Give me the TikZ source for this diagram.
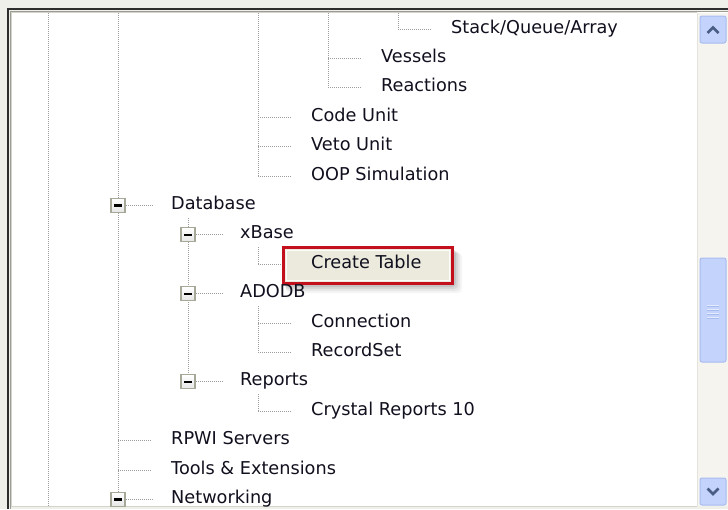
\documentclass[tikz,border=0pt]{standalone}
\usepackage{fontspec}
\setmainfont{DejaVu Sans}
\definecolor{bgout}{HTML}{F0F0EA}
\definecolor{frdark}{HTML}{2E2E2E}
\definecolor{frgray}{HTML}{9C9C94}
\definecolor{frlight}{HTML}{D4D4CC}
\definecolor{dotc}{HTML}{9C9C9C}
\definecolor{txt}{HTML}{10101E}
\definecolor{boxc}{HTML}{A8A898}
\definecolor{hired}{HTML}{C4101C}
\definecolor{hifill}{HTML}{ECEADD}
\definecolor{track}{HTML}{F5F4EF}
\definecolor{trackedge}{HTML}{E4E3DC}
\definecolor{sbfill}{HTML}{C4D3FB}
\definecolor{sbedge}{HTML}{A9BCF0}
\definecolor{sbgrip}{HTML}{E4EBFD}
\definecolor{sbarrow}{HTML}{4A5D84}
\tikzset{
  treeline/.style={draw=dotc, line width=1pt, dash pattern=on 1pt off 1pt},
  item/.style={anchor=base west, inner sep=0pt, text=txt, font=\fontsize{17.7}{20}\selectfont},
  expbox/.style={draw=boxc, line width=1.3pt, minimum width=14pt, minimum height=14pt, inner sep=0pt,
    top color=white, bottom color=black!10, rectangle},
  sbbtn/.style={draw=sbedge, line width=1pt, fill=sbfill, rounded corners=2pt}
}
\newcommand{\minusin}[1]{\draw[black, line width=2.2pt] ([xshift=-4pt]#1.center) -- ([xshift=4pt]#1.center);}
\begin{document}
\begin{tikzpicture}[x=1pt,y=-1pt]
\useasboundingbox (0,0) rectangle (728,509);
% background and frame
\fill[bgout] (0,0) rectangle (728,509);
\fill[white] (11,12) rectangle (728,506);
\draw[frdark, line width=2pt] (8,509) -- (8,9) -- (728,9);
\draw[frgray, line width=1.2pt] (10.2,509) -- (10.2,11.2) -- (728,11.2);
\draw[frlight, line width=0.8pt] (11.8,506) -- (11.8,12.6) -- (697,12.6);
\draw[frlight, line width=0.8pt] (11,506.5) -- (697,506.5);

% ---- vertical tree lines ----
\draw[treeline] (48,13) -- (48,506);
\draw[treeline] (118,13) -- (118,499.4);
\draw[treeline] (258,13) -- (258,176);
\draw[treeline] (328,13) -- (328,87.8);
\draw[treeline] (398,13) -- (398,29);
\draw[treeline] (188,218) -- (188,381.8);
\draw[treeline] (258,247) -- (258,264.2);
\draw[treeline] (258,306) -- (258,352.4);
\draw[treeline] (258,394) -- (258,411.2);

% ---- connector coordinates ----
\coordinate (j0) at (398,29);      \coordinate (e0) at (432,29);
\coordinate (j1) at (328,58.4);    \coordinate (e1) at (362,58.4);
\coordinate (j2) at (328,87.8);    \coordinate (e2) at (362,87.8);
\coordinate (j3) at (258,117.2);   \coordinate (e3) at (292,117.2);
\coordinate (j4) at (258,146.6);   \coordinate (e4) at (292,146.6);
\coordinate (j5) at (258,176);     \coordinate (e5) at (292,176);
\coordinate (e6) at (152,205.4);
\coordinate (e7) at (222,234.8);
\coordinate (j8) at (258,264.2);   \coordinate (e8) at (292,264.2);
\coordinate (e9) at (222,293.6);
\coordinate (j10) at (258,323);    \coordinate (e10) at (292,323);
\coordinate (j11) at (258,352.4);  \coordinate (e11) at (292,352.4);
\coordinate (e12) at (222,381.8);
\coordinate (j13) at (258,411.2);  \coordinate (e13) at (292,411.2);
\coordinate (j14) at (118,440.6);  \coordinate (e14) at (152,440.6);
\coordinate (j15) at (118,470);    \coordinate (e15) at (152,470);
\coordinate (e16) at (152,499.4);

% expand boxes
\node[expbox] (b6) at (118,205.4) {};
\node[expbox] (b7) at (188,234.8) {};
\node[expbox] (b9) at (188,293.6) {};
\node[expbox] (b12) at (188,381.8) {};
\node[expbox] (b16) at (118,499.4) {};
\minusin{b6}\minusin{b7}\minusin{b9}\minusin{b12}\minusin{b16}

% horizontal connectors
\foreach \k in {0,1,2,3,4,5,8,10,11,13,14,15} {\draw[treeline] (j\k) -- (e\k);}
\draw[treeline] (b6.east) -- (e6);
\draw[treeline] (b7.east) -- (e7);
\draw[treeline] (b9.east) -- (e9);
\draw[treeline] (b12.east) -- (e12);
\draw[treeline] (b16.east) -- (e16);

% highlight box for Create Table (shadow + red frame)
\foreach \o/\a in {10/0.04,8/0.05,6/0.07,4/0.09} {
  \fill[black, opacity=\a, rounded corners=4pt] (283+\o*0.3,247+\o*0.6) rectangle (452+\o,283+\o);
}
\fill[hifill] (283,247) rectangle (452,283);
\draw[white!85!hifill, line width=1pt] (286,250) rectangle (449,280);
\draw[hired, line width=3pt] (283,247) rectangle (452,283);

% texts
\node[item] (t0) at (451,33) {Stack/Queue/Array};
\node[item] (t1) at (381,62.4) {Vessels};
\node[item] (t2) at (381,91.8) {Reactions};
\node[item] (t3) at (311,121.2) {Code Unit};
\node[item] (t4) at (311,150.6) {Veto Unit};
\node[item] (t5) at (311,180) {OOP Simulation};
\node[item] (t6) at (171,209.4) {Database};
\node[item] (t7) at (240,238.8) {xBase};
\node[item] (t8) at (311,268.2) {Create Table};
\node[item] (t9) at (240,297.6) {ADODB};
\node[item] (t10) at (311,327) {Connection};
\node[item] (t11) at (311,356.4) {RecordSet};
\node[item] (t12) at (240,385.8) {Reports};
\node[item] (t13) at (311,415.2) {Crystal Reports 10};
\node[item] (t14) at (171,444.6) {RPWI Servers};
\node[item] (t15) at (171,474) {Tools \& Extensions};
\node[item] (t16) at (171,503.4) {Networking};

% scrollbar
\fill[track] (697,13) rectangle (728,506);
\draw[trackedge, line width=1pt] (697.5,13) -- (697.5,506);
\draw[sbbtn] (700,16) rectangle (726,43);
\draw[sbarrow, line width=2.6pt, line join=miter] (707.5,33) -- (713,27.5) -- (718.5,33);
\draw[sbbtn] (700,258) rectangle (726,362);
\foreach \yy in {305,309,313,317} {
  \draw[sbgrip, line width=1pt] (707,\yy) -- (719,\yy);
  \draw[sbedge, line width=0.8pt] (707,\yy+1.3) -- (719,\yy+1.3);
}
\draw[sbbtn] (700,478) rectangle (726,505);
\draw[sbarrow, line width=2.6pt, line join=miter] (707.5,488.5) -- (713,494) -- (718.5,488.5);
\end{tikzpicture}
\end{document}
